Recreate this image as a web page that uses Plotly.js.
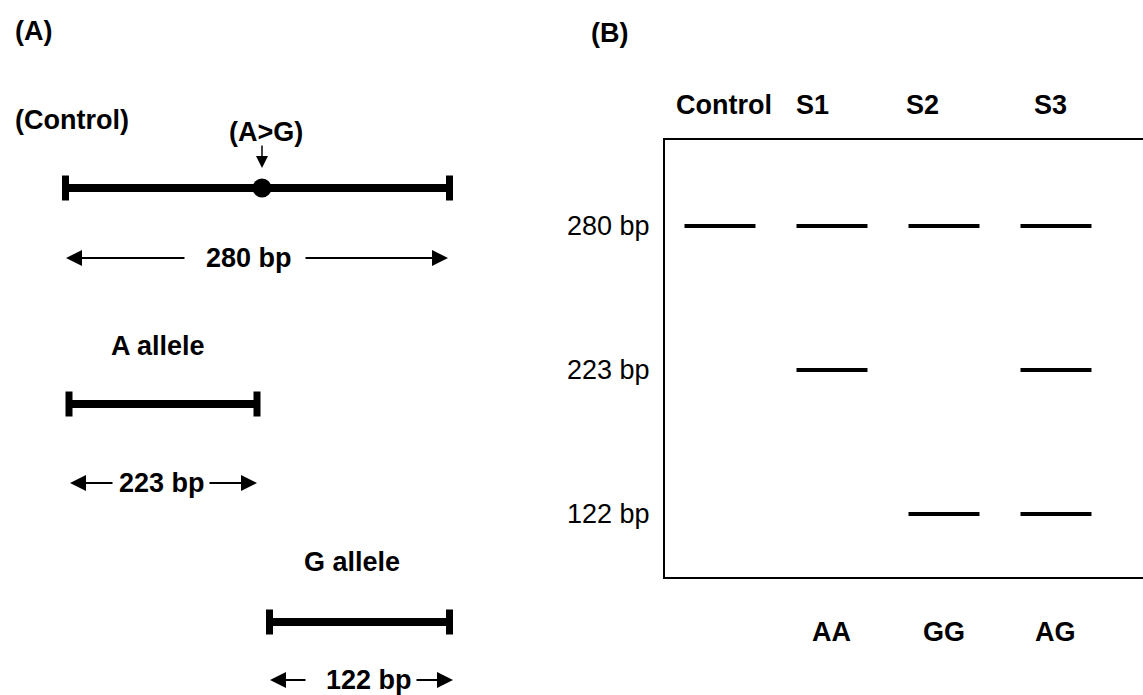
<!DOCTYPE html>
<html>
<head>
<meta charset="utf-8">
<script src="https://cdn.plot.ly/plotly-3.0.1.min.js"></script>
<style>html,body{margin:0;padding:0;background:#fff;}#chart{width:1143px;height:695px;}</style>
</head>
<body>
<div id="chart"></div>
<script>
// ---------- DATA ----------
const fragments = ["(Control)", "A allele", "G allele"];
const fragmentSizes = [280, 223, 122];
const snpLabel = "(A>G)";
const lanes = ["Control", "S1", "S2", "S3"];
const bandSizes = ["122 bp", "223 bp", "280 bp"];
const laneBands = [["280 bp"], ["280 bp", "223 bp"], ["280 bp", "122 bp"], ["280 bp", "223 bp", "122 bp"]];
const genotypes = ["", "AA", "GG", "AG"];
const panelLabels = ["(A)", "(B)"];

// ---------- SCHEMATIC LAYOUT (positions in page pixel units) ----------
const FONT = "Liberation Sans, Arial, Helvetica, sans-serif";
const FS = 27;
const SYM = 1.4; // plotly line-symbol scale factor
const schem = {
  frag: [
    {x0: 65.5, x1: 449.5, y: 188, lx: 13, ly: 120, lanchor: "left"},
    {x0: 69, x1: 257, y: 404, lx: 158, ly: 346, lanchor: "center"},
    {x0: 269.5, x1: 449.5, y: 622, lx: 351.5, ly: 562, lanchor: "center"}
  ],
  size: [
    {y: 258, l: [66, 186], t: 248.5, r: [304, 448]},
    {y: 483, l: [70, 114], t: 161.5, r: [208, 257]},
    {y: 680, l: [270, 307], t: 369, r: [415, 453]}
  ],
  snp: {x: 262, labelY: 132, arrowTop: 144, arrowTip: 168},
  panels: [{x: 13, y: 31}, {x: 589, y: 33}],
  laneLabelY: 105, laneShift: [4, -19, -21, -5],
  genoY: 632
};

const traces = [];
const annotations = [];
const txt = (s) => "<b>" + s + "</b>";

// fragments (panel A)
fragments.forEach((name, i) => {
  const f = schem.frag[i];
  traces.push({
    type: "scatter", mode: "lines+markers", xaxis: "x", yaxis: "y",
    x: [f.x0, f.x1], y: [f.y, f.y],
    line: {color: "#000", width: 8},
    marker: {symbol: "line-ns", size: 25 / SYM, color: "#000", line: {color: "#000", width: 7}},
    hoverinfo: "skip", showlegend: false
  });
  annotations.push({
    xref: "x", yref: "y", x: f.lx, y: f.ly, xanchor: f.lanchor, yanchor: "middle",
    text: txt(name), showarrow: false, font: {family: FONT, size: FS, color: "#000"}
  });
  const s = schem.size[i];
  annotations.push({
    xref: "x", yref: "y", x: s.t, y: s.y, xanchor: "center", yanchor: "middle",
    text: txt(fragmentSizes[i] + " bp"), showarrow: false, font: {family: FONT, size: FS, color: "#000"}
  });
  [[s.l[1], s.l[0]], [s.r[0], s.r[1]]].forEach(([tail, tip]) => {
    annotations.push({
      xref: "x", yref: "y", x: tip, y: s.y, axref: "x", ayref: "y", ax: tail, ay: s.y,
      text: "", showarrow: true, arrowhead: 2, arrowsize: 1.6, arrowwidth: 2, arrowcolor: "#000", standoff: 0, startstandoff: 0
    });
  });
});

// SNP dot and arrow
traces.push({
  type: "scatter", mode: "markers", xaxis: "x", yaxis: "y",
  x: [schem.snp.x], y: [schem.frag[0].y],
  marker: {symbol: "circle", size: 19, color: "#000"},
  hoverinfo: "skip", showlegend: false
});
annotations.push({
  xref: "x", yref: "y", x: schem.snp.x + 4, y: schem.snp.labelY, xanchor: "center", yanchor: "middle",
  text: txt(snpLabel), showarrow: false, font: {family: FONT, size: FS, color: "#000"}
});
annotations.push({
  xref: "x", yref: "y", x: schem.snp.x, y: schem.snp.arrowTip, axref: "x", ayref: "y", ax: schem.snp.x, ay: schem.snp.arrowTop,
  text: "", showarrow: true, arrowhead: 2, arrowsize: 1.6, arrowwidth: 1.5, arrowcolor: "#000", standoff: 0, startstandoff: 0
});

// panel labels
panelLabels.forEach((p, i) => {
  annotations.push({
    xref: "x", yref: "y", x: schem.panels[i].x, y: schem.panels[i].y, xanchor: "left", yanchor: "middle",
    text: txt(p), showarrow: false, font: {family: FONT, size: FS, color: "#000"}
  });
});

// gel bands (panel B)
bandSizes.forEach((b) => {
  const xs = lanes.filter((l, i) => laneBands[i].includes(b));
  traces.push({
    type: "scatter", mode: "markers", xaxis: "x2", yaxis: "y2",
    x: xs, y: xs.map(() => b),
    marker: {symbol: "line-ew", size: 71 / SYM, color: "#000", line: {color: "#000", width: 4}},
    hoverinfo: "skip", showlegend: false, cliponaxis: false
  });
});

const H = 695;
lanes.forEach((l, i) => {
  annotations.push({
    xref: "x2", yref: "paper", x: l, y: 1 - schem.laneLabelY / H, xshift: schem.laneShift[i],
    xanchor: "center", yanchor: "middle", text: txt(l), showarrow: false,
    font: {family: FONT, size: FS, color: "#000"}
  });
  if (genotypes[i]) {
    annotations.push({
      xref: "x2", yref: "paper", x: l, y: 1 - schem.genoY / H,
      xanchor: "center", yanchor: "middle", text: txt(genotypes[i]), showarrow: false,
      font: {family: FONT, size: FS, color: "#000"}
    });
  }
});

const layout = {
  width: 1143, height: 695,
  margin: {l: 0, r: 0, t: 0, b: 0, pad: 0},
  paper_bgcolor: "#fff", plot_bgcolor: "rgba(0,0,0,0)",
  showlegend: false,
  xaxis: {domain: [0, 1], range: [0, 1143], visible: false, fixedrange: true},
  yaxis: {domain: [0, 1], range: [695, 0], visible: false, fixedrange: true},
  xaxis2: {
    domain: [665 / 1143, 1], range: [-0.491, 3.777], type: "category",
    categoryorder: "array", categoryarray: lanes, anchor: "y2",
    showline: true, mirror: true, linecolor: "#000", linewidth: 2,
    showgrid: false, zeroline: false, showticklabels: false, ticks: ""
  },
  yaxis2: {
    domain: [1 - 577 / H, 1 - 140 / H], range: [-0.4375, 2.597], type: "category",
    categoryorder: "array", categoryarray: bandSizes, anchor: "x2",
    showline: true, mirror: false, linecolor: "#000", linewidth: 2,
    showgrid: false, zeroline: false, ticks: "", ticklabelstandoff: 8,
    tickfont: {family: FONT, size: FS, color: "#000"}
  },
  annotations: annotations
};

Plotly.newPlot("chart", traces, layout, {staticPlot: true, displayModeBar: false});
</script>
</body>
</html>
